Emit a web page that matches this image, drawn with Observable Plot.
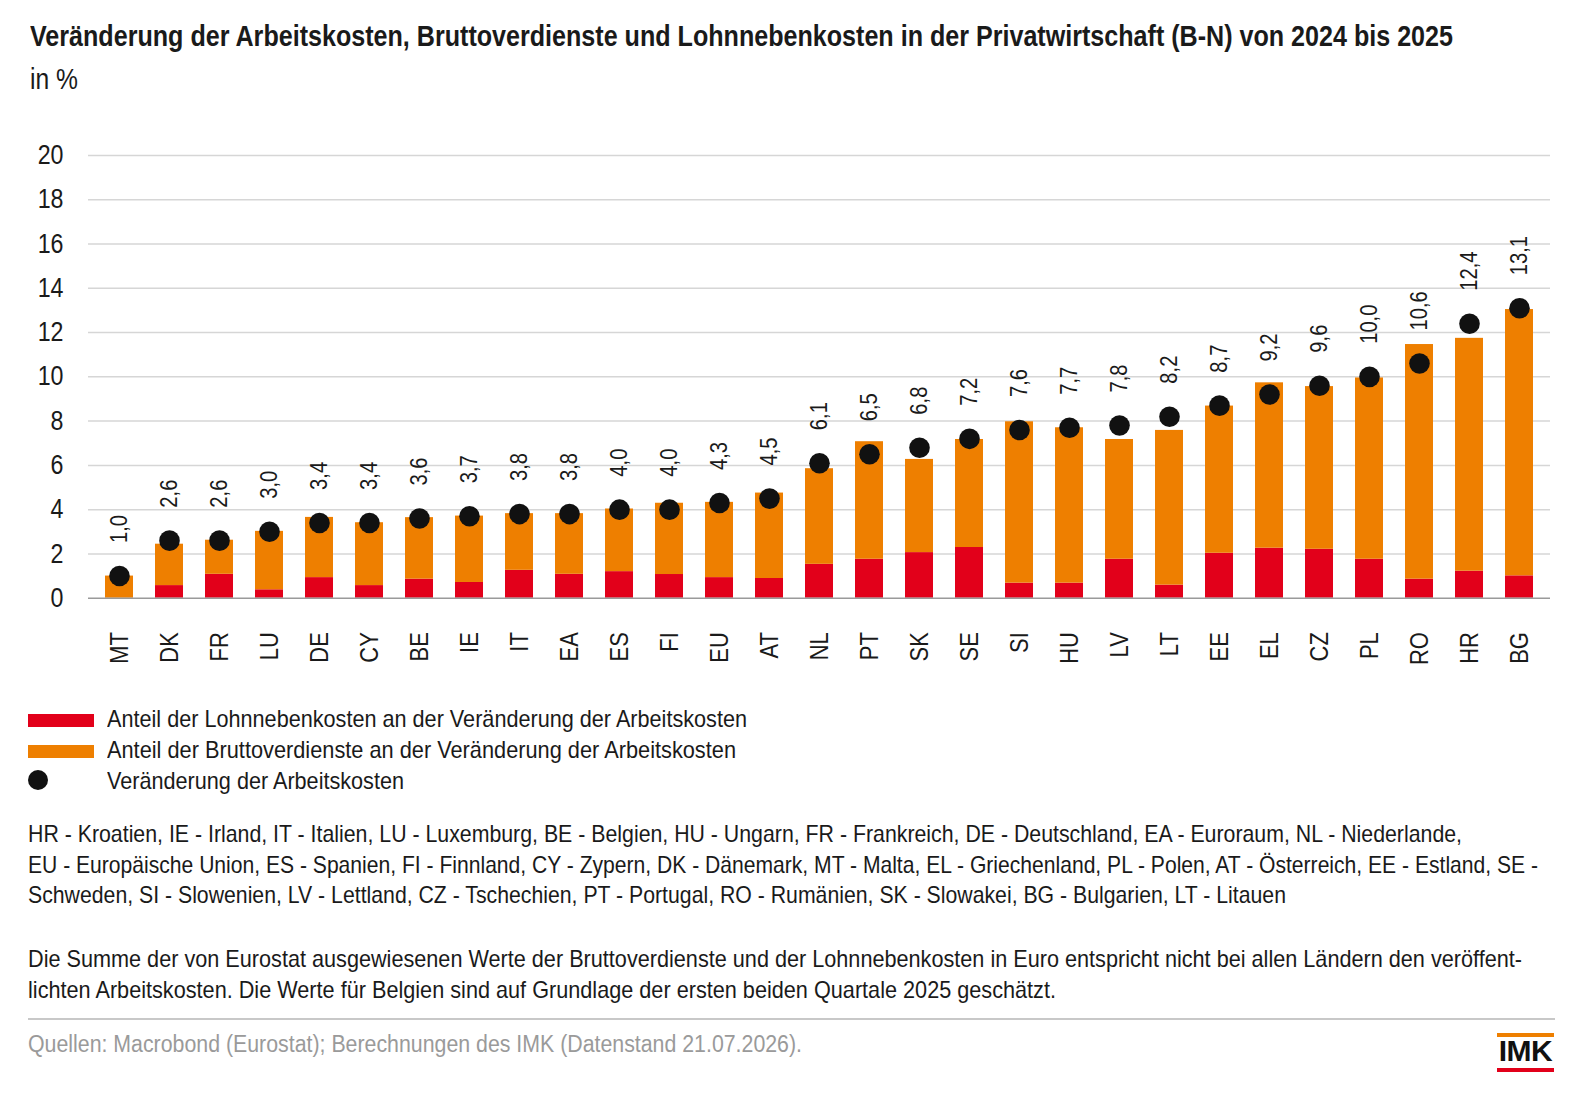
<!DOCTYPE html>
<html lang="de">
<head>
<meta charset="utf-8">
<script src="https://cdn.jsdelivr.net/npm/d3@7"></script>
<script src="https://cdn.jsdelivr.net/npm/@observablehq/plot@0.6"></script>
<style>
  html, body { margin: 0; padding: 0; background: #fff; }
  body { width: 1588px; height: 1098px; position: relative; overflow: hidden; color: #1a1a1a;
         font-family: 'Liberation Sans', Arial, sans-serif; }
  .t { position: absolute; white-space: nowrap; }
  .ln { display: block; white-space: nowrap; }
  .ln span { display: inline-block; transform-origin: 0 50%; }
  #title { left: 30px; top: 21px; font-size: 30px; line-height: 30px; font-weight: bold; }
  #sub { left: 30px; top: 64px; font-size: 30px; line-height: 30px; }
  #chart { position: absolute; left: 0; top: 100px; }
  #legend { left: 28px; top: 703px; font-size: 24px; line-height: 31px; }
  .lg { position: relative; height: 31px; width: 900px; }
  .sw { position: absolute; left: 0; width: 66px; height: 13px; top: 11px; }
  .dt { position: absolute; left: 0; width: 20px; height: 20px; border-radius: 50%; background: #111; top: 5px; }
  .lt { position: absolute; left: 79px; top: 0; }
  #notes { left: 28px; top: 819px; font-size: 24px; line-height: 30.65px; }
  #para { left: 28px; top: 944px; font-size: 24px; line-height: 30.6px; }
  #sep { position: absolute; left: 28px; top: 1018px; width: 1527px; height: 2px; background: #c8c8c8; }
  #src { left: 28px; top: 1033px; font-size: 23px; line-height: 23px; color: #9a9a9a; }
  #logo { position: absolute; left: 1497px; top: 1033px; width: 57px; }
  #logo .o { height: 4px; background: #ee7f00; }
  #logo .r { height: 4px; background: #e2001a; position: absolute; top: 35px; left: 0; width: 57px; }
  #logo .k { position: absolute; top: 0px; left: 0; width: 57px; text-align: center;
             font-weight: bold; font-size: 30px; line-height: 35px; color: #111; letter-spacing: -0.5px; }
</style>
</head>
<body>
<div id="title" class="t"><span class="ln"><span data-w="1423">Veränderung der Arbeitskosten, Bruttoverdienste und Lohnnebenkosten in der Privatwirtschaft (B-N) von 2024 bis 2025</span></span></div>
<div id="sub" class="t"><span class="ln"><span data-w="48">in %</span></span></div>
<div id="chart"></div>
<div id="legend" class="t">
  <div class="lg"><div class="sw" style="background:#e2001a"></div><div class="lt ln"><span data-w="640">Anteil der Lohnnebenkosten an der Veränderung der Arbeitskosten</span></div></div>
  <div class="lg"><div class="sw" style="background:#ee7f00"></div><div class="lt ln"><span data-w="629">Anteil der Bruttoverdienste an der Veränderung der Arbeitskosten</span></div></div>
  <div class="lg"><div class="dt"></div><div class="lt ln"><span data-w="297">Veränderung der Arbeitskosten</span></div></div>
</div>
<div id="notes" class="t">
  <span class="ln"><span data-w="1434">HR - Kroatien, IE - Irland, IT - Italien, LU - Luxemburg, BE - Belgien, HU - Ungarn, FR - Frankreich, DE - Deutschland, EA - Euroraum, NL - Niederlande,</span></span>
  <span class="ln"><span data-w="1510">EU - Europäische Union, ES - Spanien, FI - Finnland, CY - Zypern, DK - Dänemark, MT - Malta, EL - Griechenland, PL - Polen, AT - Österreich, EE - Estland, SE -</span></span>
  <span class="ln"><span data-w="1258">Schweden, SI - Slowenien, LV - Lettland, CZ - Tschechien, PT - Portugal, RO - Rumänien, SK - Slowakei, BG - Bulgarien, LT - Litauen</span></span>
</div>
<div id="para" class="t">
  <span class="ln"><span data-w="1494">Die Summe der von Eurostat ausgewiesenen Werte der Bruttoverdienste und der Lohnnebenkosten in Euro entspricht nicht bei allen Ländern den veröffent-</span></span>
  <span class="ln"><span data-w="1028">lichten Arbeitskosten. Die Werte für Belgien sind auf Grundlage der ersten beiden Quartale 2025 geschätzt.</span></span>
</div>
<div id="sep"></div>
<div id="src" class="t"><span class="ln"><span data-w="774">Quellen: Macrobond (Eurostat); Berechnungen des IMK (Datenstand 21.07.2026).</span></span></div>
<div id="logo"><div class="o"></div><div class="k">IMK</div><div class="r"></div></div>

<script>
// ---- Data ----
const countries = ["MT","DK","FR","LU","DE","CY","BE","IE","IT","EA","ES","FI","EU","AT","NL","PT","SK","SE","SI","HU","LV","LT","EE","EL","CZ","PL","RO","HR","BG"];
// Anteil der Lohnnebenkosten an der Veränderung der Arbeitskosten (red)
const lohnnebenkosten = [0.00,0.57,1.08,0.38,0.93,0.57,0.86,0.71,1.26,1.08,1.20,1.07,0.93,0.89,1.53,1.76,2.06,2.29,0.68,0.68,1.76,0.59,2.03,2.26,2.21,1.76,0.86,1.22,1.01];
// Anteil der Bruttoverdienste an der Veränderung der Arbeitskosten (orange)
const bruttoverdienste = [1.00,1.87,1.54,2.64,2.72,2.84,2.78,3.00,2.56,2.74,2.83,3.22,3.40,3.86,4.32,5.31,4.21,4.88,7.29,7.02,5.41,6.99,6.65,7.47,7.35,8.19,10.60,10.52,12.03];
// Veränderung der Arbeitskosten (dots)
const arbeitskosten = [1.0,2.6,2.6,3.0,3.4,3.4,3.6,3.7,3.8,3.8,4.0,4.0,4.3,4.5,6.1,6.5,6.8,7.2,7.6,7.7,7.8,8.2,8.7,9.2,9.6,10.0,10.6,12.4,13.1];
const yTicks = [0,2,4,6,8,10,12,14,16,18,20];
const seriesNames = ["Lohnnebenkosten","Bruttoverdienste"];
const seriesColors = ["#e2001a","#ee7f00"];

const rows = [];
countries.forEach((c, i) => rows.push({land: c, serie: seriesNames[0], wert: lohnnebenkosten[i]}));
countries.forEach((c, i) => rows.push({land: c, serie: seriesNames[1], wert: bruttoverdienste[i]}));
const pts = countries.map((c, i) => ({land: c, wert: arbeitskosten[i]}));
const fmt = v => d3.format(".1f")(v).replace(".", ",");

const chart = Plot.plot({
  width: 1588,
  height: 580,
  marginTop: 55,
  marginBottom: 82.3,
  marginLeft: 88,
  marginRight: 38,
  style: {fontFamily: "'Liberation Sans', Arial, sans-serif", color: "#1a1a1a", background: "transparent"},
  x: {domain: countries, paddingInner: 0.445, paddingOuter: 0.215, label: null},
  y: {domain: [0, 20], label: null},
  color: {domain: seriesNames, range: seriesColors},
  marks: [
    Plot.ruleY(yTicks.filter(d => d > 0), {stroke: "#d6d6d6", strokeWidth: 1.5}),
    Plot.barY(rows, {x: "land", y: "wert", fill: "serie"}),
    Plot.ruleY([0], {stroke: "#9a9a9a", strokeWidth: 1.5}),
    Plot.dot(pts, {x: "land", y: "wert", r: 10.3, fill: "#111", stroke: "none"}),
    Plot.text(pts, {x: "land", y: "wert", text: d => fmt(d.wert), rotate: -90, textAnchor: "start", dy: -33,
                    fontSize: 23.5, fill: "#1a1a1a", className: "cond"}),
    Plot.axisY({ticks: yTicks, tickSize: 0, tickPadding: 25, fontSize: 27, label: null, fill: "#1a1a1a", className: "cond"}),
    Plot.axisX({tickSize: 0, tickRotate: -90, tickPadding: 34, fontSize: 25.5, label: null, fill: "#1a1a1a", className: "cond"})
  ]
});
document.getElementById("chart").appendChild(chart);

// condensed look of the reference typeface: squeeze along the reading direction
chart.querySelectorAll(".cond text").forEach(t => {
  const tr = t.getAttribute("transform") || "";
  t.setAttribute("transform", (tr + " scale(0.86,1)").trim());
});

// condense the HTML text lines horizontally to the widths seen in the reference
document.querySelectorAll("span[data-w]").forEach(s => {
  const w = s.getBoundingClientRect().width;
  const target = +s.dataset.w;
  if (w > 0) s.style.transform = `scaleX(${target / w})`;
});
</script>
</body>
</html>
